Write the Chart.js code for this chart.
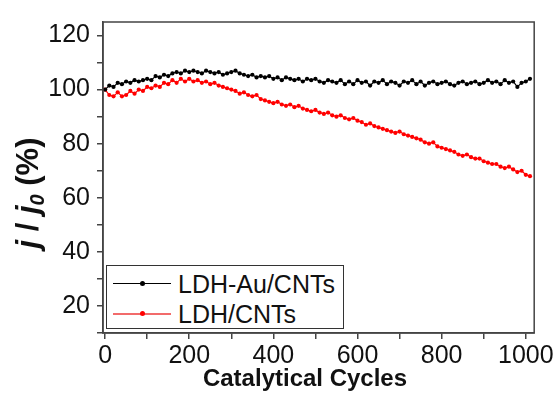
<!DOCTYPE html>
<html><head><meta charset="utf-8">
<script src="https://cdn.jsdelivr.net/npm/chart.js@4"></script>
<style>
html,body{margin:0;padding:0;background:#fff;}
#wrap{position:relative;width:556px;height:393px;overflow:hidden;}
#c{position:absolute;left:0;top:0;}
.ytitle{position:absolute;left:-72px;top:176px;width:200px;height:34px;line-height:34px;text-align:center;
  transform:rotate(-90deg);font-family:"Liberation Sans",Arial,sans-serif;font-weight:bold;font-size:31px;color:#111;white-space:nowrap;}
.ytitle sub{font-size:20px;vertical-align:-6px;line-height:0;}
.xtitle{position:absolute;left:155px;width:300px;top:365px;height:26px;line-height:26px;text-align:center;
  font-family:"Liberation Sans",Arial,sans-serif;font-weight:bold;font-size:24px;color:#111;white-space:nowrap;}
#legend{position:absolute;left:106px;top:265px;width:236px;height:62px;border:1.5px solid #333;background:#fff;
  font-family:"Liberation Sans",Arial,sans-serif;font-size:25px;color:#111;}
.row{position:absolute;left:0;height:30px;width:236px;}
.ln{position:absolute;left:6px;width:58px;top:14px;height:1px;}
.dot{position:absolute;left:33px;top:12px;width:5px;height:5px;border-radius:50%;}
.lab{position:absolute;left:71px;top:0;line-height:30px;}
</style>
</head><body>
<div id="wrap">
<canvas id="c" width="556" height="393"></canvas>
<div class="ytitle"><i>j</i> / <i>j<sub>0</sub></i> (%)</div>
<div class="xtitle">Catalytical Cycles</div>
<div id="legend"></div>
</div>
<script>
const cycles = [0,10,20,30,40,50,60,70,80,90,100,110,120,130,140,150,160,170,180,190,200,210,220,230,240,250,260,270,280,290,300,310,320,330,340,350,360,370,380,390,400,410,420,430,440,450,460,470,480,490,500,510,520,530,540,550,560,570,580,590,600,610,620,630,640,650,660,670,680,690,700,710,720,730,740,750,760,770,780,790,800,810,820,830,840,850,860,870,880,890,900,910,920,930,940,950,960,970,980,990,1000,1010];
const ldhAuCNTs = [100,101.5,101,102.5,102,103,102.5,103.5,103,103.5,104,103.5,105,104.5,105.5,105,106,106.5,106,107,106.5,107,106.5,106,107,106.5,106,106.5,105.5,106,106.5,107,106,105.5,105,105.5,104.5,105,104.5,105,104,104.5,103.5,104.5,104,103.5,104,103,104,103.5,104,103,102.5,103.5,103,102.5,103.5,102,103,102,103.5,102.5,103,101.5,103,102.5,103.5,102,103,102.5,101.5,103,102.5,103.5,102,103,101.5,102.5,103,102,102.5,103,102,101.5,102.5,103,102,102.5,103,102,102.5,103.5,102.5,103,102,103.5,102.5,103,101,102.5,103,104];
const ldhCNTs = [100,98,97.5,99,97.5,98,99.5,98.5,100,99.5,101,100.5,101.5,101,102.5,102,103.5,102.5,104,103,104,103,103.5,102.5,103,102,102.5,101.5,101,100.5,100,99.5,98.5,99,98,97.5,98,96.5,96,95.5,95,95.5,94.5,94,94.5,93.5,94,93,92.5,92,92.5,91.5,91,91.5,90.5,90,90.5,89.5,89,89.5,88.5,88,87,87.5,86.5,86,85.5,85,84.5,84,84.5,83.5,83,82.5,82,81.5,80.5,80,80.5,79,78.5,78,77.5,77,76,75.5,76,75,74.5,74.5,73.5,73,72.5,72.5,71.5,71,71.5,70.5,69.5,70,68.5,68];
const seriesNames = ['LDH-Au/CNTs','LDH/CNTs'];
const seriesColors = ['#000000','#ff0000'];
const legendLineColors = ['#000000','#f26b6b'];
const xTickValues = [0,100,200,300,400,500,600,700,800,900,1000];
const yTickValues = [10,20,30,40,50,60,70,80,90,100,110,120];
const xLabelled = [0,200,400,600,800,1000];
const yLabelled = [20,40,60,80,100,120];

const FONT = '"Liberation Sans", Arial, sans-serif';
const frame = {
  id:'frame',
  afterDatasetsDraw(chart){
    const {ctx, chartArea:a} = chart;
    ctx.save();
    ctx.strokeStyle = '#444';
    ctx.lineWidth = 1.5;
    ctx.strokeRect(a.left, a.top, a.right - a.left, a.bottom - a.top);
    ctx.restore();
  }
};
const series = [ldhAuCNTs, ldhCNTs];
new Chart(document.getElementById('c'), {
  type:'line',
  data:{
    datasets: series.map((vals,i)=>({
      label: seriesNames[i],
      data: cycles.map((c,k)=>({x:c, y:vals[k]})),
      borderColor: seriesColors[i],
      backgroundColor: seriesColors[i],
      pointBackgroundColor: seriesColors[i],
      pointBorderWidth: 0,
      pointRadius: 2.1,
      borderWidth: 1.2,
      tension: 0,
      fill:false
    }))
  },
  options:{
    responsive:false,
    animation:false,
    devicePixelRatio:1,
    layout:{padding:{top:12,right:21,left:0,bottom:0}},
    plugins:{legend:{display:false},tooltip:{enabled:false}},
    scales:{
      x:{
        type:'linear', min:-5, max:1020,
        afterBuildTicks(s){ s.ticks = xTickValues.map(v=>({value:v})); },
        afterFit(s){ s.height = 60; },
        ticks:{autoSkip:false, maxRotation:0, padding:2, color:'#111',
          font:{family:FONT, size:25},
          callback:v=> xLabelled.includes(v) ? String(v) : ''},
        grid:{display:true, drawOnChartArea:false, drawTicks:true, tickLength:6, color:'#444', lineWidth:1.5},
        border:{display:true, color:'#444', width:1.5},
        title:{display:false}
      },
      y:{
        type:'linear', min:10, max:125,
        afterBuildTicks(s){ s.ticks = yTickValues.map(v=>({value:v})); },
        afterFit(s){ s.width = 103; },
        ticks:{autoSkip:false, padding:7, color:'#111',
          font:{family:FONT, size:25},
          callback:v=> yLabelled.includes(v) ? String(v) : ''},
        grid:{display:true, drawOnChartArea:false, drawTicks:true, tickLength:6, color:'#444', lineWidth:1.5},
        border:{display:true, color:'#444', width:1.5}
      }
    }
  },
  plugins:[frame]
});

const lg = document.getElementById('legend');
seriesNames.forEach((n,i)=>{
  const r = document.createElement('div');
  r.className='row';
  r.style.top = (i===0 ? 3 : 33) + 'px';
  r.innerHTML = '<div class="ln" style="background:'+legendLineColors[i]+';height:'+(i===0?1:2)+'px"></div>'+
    '<div class="dot" style="background:'+seriesColors[i]+'"></div>'+
    '<div class="lab">'+n+'</div>';
  lg.appendChild(r);
});
</script>
</body></html>
